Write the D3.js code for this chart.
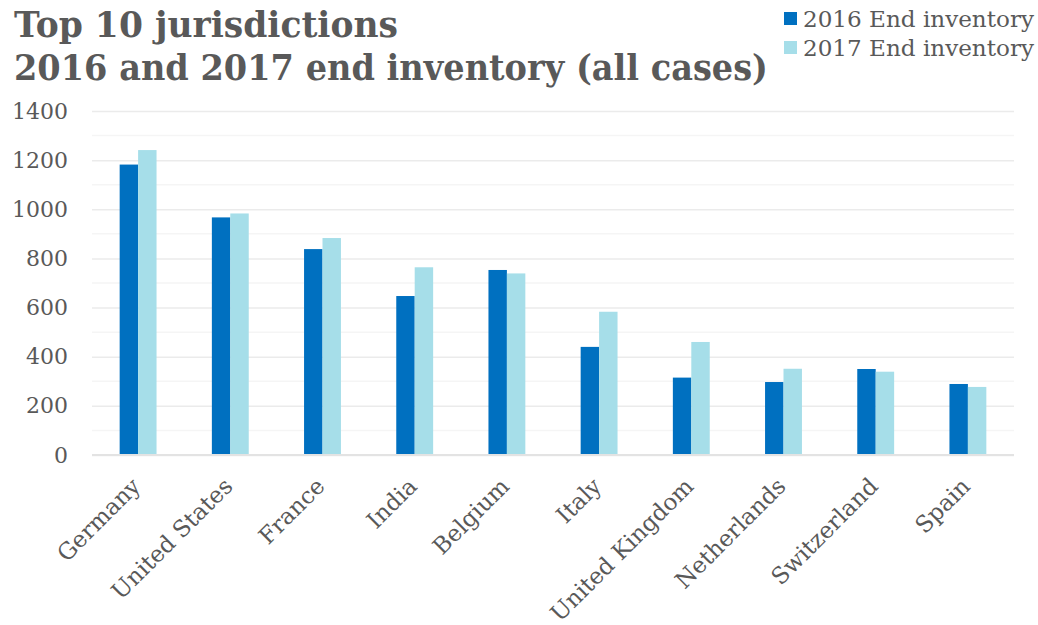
<!DOCTYPE html>
<html>
<head>
<meta charset="utf-8">
<script src="https://cdn.jsdelivr.net/npm/d3@7"></script>
<style>
  body { margin: 0; background: #fff; }
  text { font-family: Georgia, "DejaVu Serif", serif; fill: #595959; }
</style>
</head>
<body>
<div id="chart"></div>
<script>
const countries = ["Germany", "United States", "France", "India", "Belgium", "Italy",
  "United Kingdom", "Netherlands", "Switzerland", "Spain"];
const inventory2016 = [1182, 967, 838, 647, 753, 440, 315, 297, 350, 289];
const inventory2017 = [1241, 983, 883, 764, 739, 583, 460, 351, 339, 277];
const seriesNames = ["2016 End inventory", "2017 End inventory"];
const seriesColors = ["#0070C0", "#A6DEE9"];
const titleLines = ["Top 10 jurisdictions", "2016 and 2017 end inventory (all cases)"];

const width = 1038, height = 625;
const margin = { top: 111, right: 24, bottom: 170, left: 92 };

const svg = d3.select("#chart").append("svg")
  .attr("width", width).attr("height", height);

const x = d3.scaleBand()
  .domain(countries)
  .range([margin.left, width - margin.right])
  .paddingInner(0.6)
  .paddingOuter(0.3);

const xSub = d3.scaleBand()
  .domain([0, 1])
  .range([0, x.bandwidth()]);

const y = d3.scaleLinear()
  .domain([0, 1400])
  .range([height - margin.bottom, margin.top]);

// minor gridlines
svg.append("g")
  .selectAll("line")
  .data(d3.range(100, 1400, 200))
  .join("line")
  .attr("x1", margin.left).attr("x2", width - margin.right)
  .attr("y1", d => y(d)).attr("y2", d => y(d))
  .attr("stroke", "#F5F5F5").attr("stroke-width", 1.5);

// major gridlines + y labels
const yAxis = svg.append("g")
  .attr("transform", `translate(${margin.left},0)`)
  .call(d3.axisLeft(y).tickValues(d3.range(0, 1401, 200)).tickFormat(d3.format("d"))
    .tickSize(-(width - margin.left - margin.right)).tickPadding(24));
yAxis.select(".domain").remove();
yAxis.selectAll(".tick line").attr("stroke", "#EBEBEB").attr("stroke-width", 1.5);
yAxis.selectAll(".tick text")
  .style("font-family", "Georgia, 'DejaVu Serif', serif")
  .style("font-size", "22px").attr("fill", "#595959");

// bars
const groups = svg.append("g")
  .selectAll("g")
  .data(countries.map((c, i) => ({ c, vals: [inventory2016[i], inventory2017[i]] })))
  .join("g")
  .attr("transform", d => `translate(${x(d.c)},0)`);

groups.selectAll("rect")
  .data(d => d.vals.map((v, k) => ({ v, k })))
  .join("rect")
  .attr("x", d => xSub(d.k))
  .attr("width", xSub.bandwidth())
  .attr("y", d => y(d.v))
  .attr("height", d => y(0) - y(d.v))
  .attr("fill", d => seriesColors[d.k]);

// baseline
svg.append("line")
  .attr("x1", margin.left).attr("x2", width - margin.right)
  .attr("y1", y(0)).attr("y2", y(0))
  .attr("stroke", "#E3E3E3").attr("stroke-width", 2);

// x labels
svg.append("g")
  .selectAll("text")
  .data(countries)
  .join("text")
  .attr("transform", d => `translate(${x(d) + x.bandwidth() / 2 - 2},${y(0) + 27}) rotate(-45)`)
  .attr("text-anchor", "end")
  .attr("dy", "0.35em")
  .style("font-size", "23px")
  .text(d => d);

// title
const titleWidths = [384, 754];
titleLines.forEach((t, i) => {
  svg.append("text")
    .attr("x", 14).attr("y", 37 + i * 43)
    .attr("textLength", titleWidths[i])
    .attr("lengthAdjust", "spacingAndGlyphs")
    .style("font-size", "35px").style("font-weight", "bold")
    .attr("fill", "#555555")
    .text(t);
});

// legend
const legend = svg.append("g").attr("transform", "translate(784,12)");
seriesNames.forEach((name, i) => {
  legend.append("rect")
    .attr("x", 0).attr("y", i * 29)
    .attr("width", 13).attr("height", 13)
    .attr("fill", seriesColors[i]);
  legend.append("text")
    .attr("x", 19).attr("y", i * 29 + 15)
    .attr("textLength", 231)
    .attr("lengthAdjust", "spacingAndGlyphs")
    .style("font-size", "23px")
    .text(name);
});
</script>
</body>
</html>
